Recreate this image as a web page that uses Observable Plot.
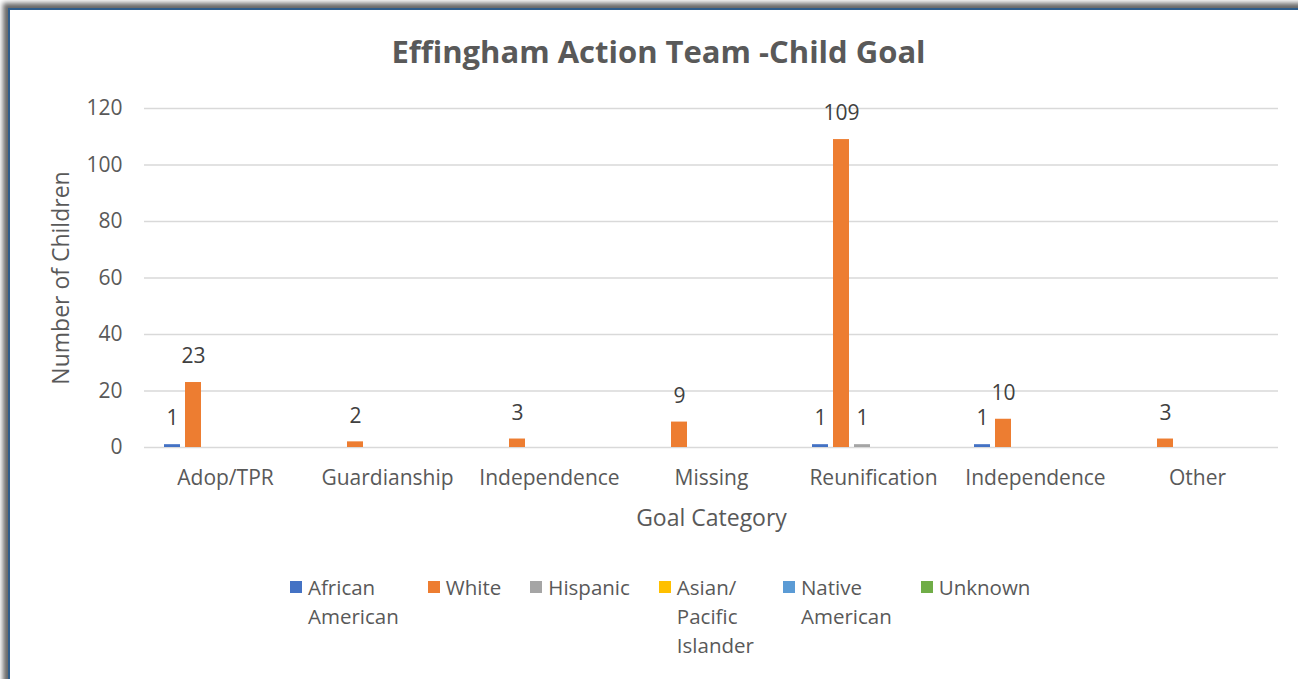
<!DOCTYPE html>
<html><head><meta charset="utf-8">
<script src="https://cdn.jsdelivr.net/npm/d3@7"></script>
<script src="https://cdn.jsdelivr.net/npm/@observablehq/plot@0.6"></script>
<style>
body{margin:0;background:#fff;font-family:"Open Sans",sans-serif;}
#page{position:relative;width:1298px;height:679px;overflow:hidden;background:#fff;}
#frame{position:absolute;left:8px;top:8px;width:1400px;height:800px;background:#fff;border-top:2px solid #2E5C8A;border-left:2px solid #2E5C8A;box-shadow:-5px -5px 5px rgba(0,0,0,0.6);}
#title{position:absolute;left:10px;width:1297px;top:36px;line-height:30px;text-align:center;font-weight:bold;font-size:31px;color:#595959;}
#chart{position:absolute;left:0;top:90px;}
#legend{position:absolute;top:573px;left:290px;display:flex;gap:29px;}
.item{display:flex;align-items:flex-start;font-size:20.5px;color:#595959;line-height:29px;white-space:pre-line}
.sw{width:12px;height:12px;margin-top:8px;margin-right:6px;flex:none}
</style></head>
<body>
<div id="page">
  <div id="frame"></div>
  <div id="title"></div>
  <div id="chart"></div>
  <div id="legend"></div>
</div>
<script>
const title = "Effingham Action Team -Child Goal";
const categories = ["Adop/TPR","Guardianship","Independence","Missing","Reunification","Independence","Other"];
const series = ["African American","White","Hispanic","Asian/Pacific Islander","Native American","Unknown"];
const legendLabels = ["African\nAmerican","White","Hispanic","Asian/\nPacific\nIslander","Native\nAmerican","Unknown"];
const colors = ["#4472C4","#ED7D31","#A5A5A5","#FFC000","#5B9BD5","#70AD47"];
const africanAmerican = [1,0,0,0,1,1,0];
const white = [23,2,3,9,109,10,3];
const hispanic = [0,0,0,0,1,0,0];
const asianPacific = [0,0,0,0,0,0,0];
const nativeAmerican = [0,0,0,0,0,0,0];
const unknown = [0,0,0,0,0,0,0];
const yTicks = [0,20,40,60,80,100,120];
const xLabel = "Goal Category";
const yLabel = "Number of Children";

const values = [africanAmerican, white, hispanic, asianPacific, nativeAmerican, unknown];
const data = [];
categories.forEach((c, i) => series.forEach((s, j) => data.push({key: i, series: s, value: values[j][i]})));
const firstKey = 0;
const middleKey = Math.floor(categories.length / 2);

document.getElementById("title").textContent = title;

const chart = Plot.plot({
  width: 1298, height: 450,
  marginTop: 18, marginBottom: 93, marginLeft: 142, marginRight: 18,
  style: {fontFamily: '"Open Sans", sans-serif', fontSize: "21px", color: "#595959", background: "transparent"},
  fx: {domain: d3.range(categories.length), padding: 0},
  x: {domain: series, paddingInner: 0.22, paddingOuter: 0.8, axis: null},
  y: {domain: [0, 120]},
  color: {domain: series, range: colors},
  marks: [
    Plot.gridY(yTicks, {stroke: "#d9d9d9", strokeOpacity: 1, strokeWidth: 1.5}),
    Plot.axisY(yTicks, {tickSize: 0, tickPadding: 22, label: null, fontSize: 21}),
    Plot.axisFx({anchor: "bottom", tickSize: 0, tickPadding: 23, tickFormat: i => categories[i], label: null, fontSize: 21}),
    Plot.text([yLabel], {fx: () => firstKey, text: d => d, frameAnchor: "left", textAnchor: "middle", rotate: -90, dx: -83, lineAnchor: "middle", fontSize: 23, fill: "#595959"}),
    Plot.text([xLabel], {fx: () => middleKey, text: d => d, frameAnchor: "bottom", textAnchor: "middle", dy: 71, lineAnchor: "middle", fontSize: 23, fill: "#595959"}),
    Plot.barY(data, {fx: "key", x: "series", y: "value", fill: "series"}),
    Plot.text(data.filter(d => d.value > 0), {fx: "key", x: "series", y: "value", text: d => String(d.value), dy: -26, fill: "#404040", fontSize: 21})
  ]
});
document.getElementById("chart").appendChild(chart);

const legend = document.getElementById("legend");
series.forEach((s, j) => {
  const item = document.createElement("div");
  item.className = "item";
  const sw = document.createElement("div");
  sw.className = "sw";
  sw.style.background = colors[j];
  const tx = document.createElement("div");
  tx.textContent = legendLabels[j];
  item.appendChild(sw);
  item.appendChild(tx);
  legend.appendChild(item);
});
</script>
</body></html>
